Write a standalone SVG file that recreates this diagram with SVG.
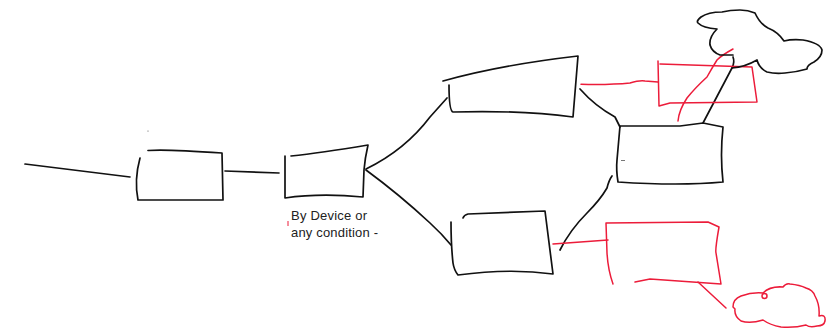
<svg xmlns="http://www.w3.org/2000/svg" width="839" height="328" viewBox="0 0 839 328">
<style>
.k{fill:none;stroke:#111;stroke-width:1.7;stroke-linecap:round;stroke-linejoin:round}
.r{fill:none;stroke:#ec1c3a;stroke-width:1.5;stroke-linecap:round;stroke-linejoin:round}
text{font-family:"Liberation Sans",Arial,sans-serif;font-size:13px;fill:#222}
</style>
<rect width="839" height="328" fill="#fff"/>
<g id="connectors">
<path class="k" d="M25 164L130 177"/>
<path class="k" d="M225 171L279 173"/>
<path class="k" d="M366 169Q405 150 430 117L447 98"/>
<path class="k" d="M366 170Q400 195 430 223Q442 234 451 245"/>
<path class="k" d="M580 89Q595 106 615 117L620 127"/>
<path class="k" d="M560 250Q570 230 587 213Q600 200 607 188Q609 180 612 176"/>
<path class="k" d="M703 123L732 68Q735 62 733 57"/>
<path class="r" d="M581 84.300Q610 85 630 83Q640 80 645 81L658 82"/>
<path class="r" d="M733 49Q722 55 717 60Q712 68 707 77Q695 88 687 98Q679 110 678 121"/>
<path class="r" d="M553 244L608 240"/>
<path class="r" d="M698 282L726 308"/>
</g>
<g id="node-1"><path class="k" d="M148 150.500Q165 149 222 153L223 200L138 200Q134 180 140 158"/><circle cx="148" cy="131" r=".6" fill="#555"/></g>
<g id="node-2"><path class="k" d="M291 156Q320 153 368 145Q365 158 364 170L363 197Q320 193 285 198L285 156"/></g>
<g id="label"><path d="M288 221V226" stroke="#ec1c3a" fill="none"/><text x="291" y="220" textLength="76">By Device or</text><text x="291" y="237" textLength="87">any condition -</text></g>
<g id="node-top"><path class="k" d="M443 81Q500 65 578 56L573 117Q520 110 453 112Q449 111 449 85"/></g>
<g id="node-bottom"><path class="k" d="M463 218Q464 215 468 214L545 211L553 274Q510 268 458 275Q454 270 453 263Q451 245 451 222"/></g>
<g id="node-right"><path class="k" d="M620 126L680 126L703 123L723 127Q720 155 723 182Q680 186 618 182Q616 170 617 160L620 126"/><path d="M621 160.500H625" stroke="#777" fill="none"/></g>
<g id="node-red-top"><path class="r" d="M658 61L659 106L670 103L757 102L752 67L660 64"/></g>
<g id="node-red-bottom"><path class="r" d="M613 284Q608 270 607 253L606 223L708 222L719 227Q715 250 716 253L721 284L650 279L635 282"/></g>
<g id="cloud-top"><path class="k" d="M732 68Q745 67 757 60Q759 68 767 72Q775 74 785 73Q797 72 807 69Q807 65 814 62Q822 57 822 50Q820 43 803 40Q792 39 784 41Q778 32 768 28Q760 24 755 13Q748 10 740 10Q730 10 722 12Q708 12 701 17Q696 21 698 23Q703 28 717 29Q709 37 710 45Q712 52 720 55L733 55"/></g>
<g id="cloud-bottom"><path class="r" d="M733 307Q733 299 741 296Q752 292 763 293Q770 286 783 287Q786 283 790 284Q800 285 806 288Q813 290 815 296Q820 305 819 316Q826 314 825 321Q824 326 817 326Q810 328 806 325Q795 328 781 327Q770 325 763 320Q750 324 741 321Q734 316 735 309L733 307"/><circle class="r" cx="764.500" cy="296" r="2.500"/></g>
</svg>
